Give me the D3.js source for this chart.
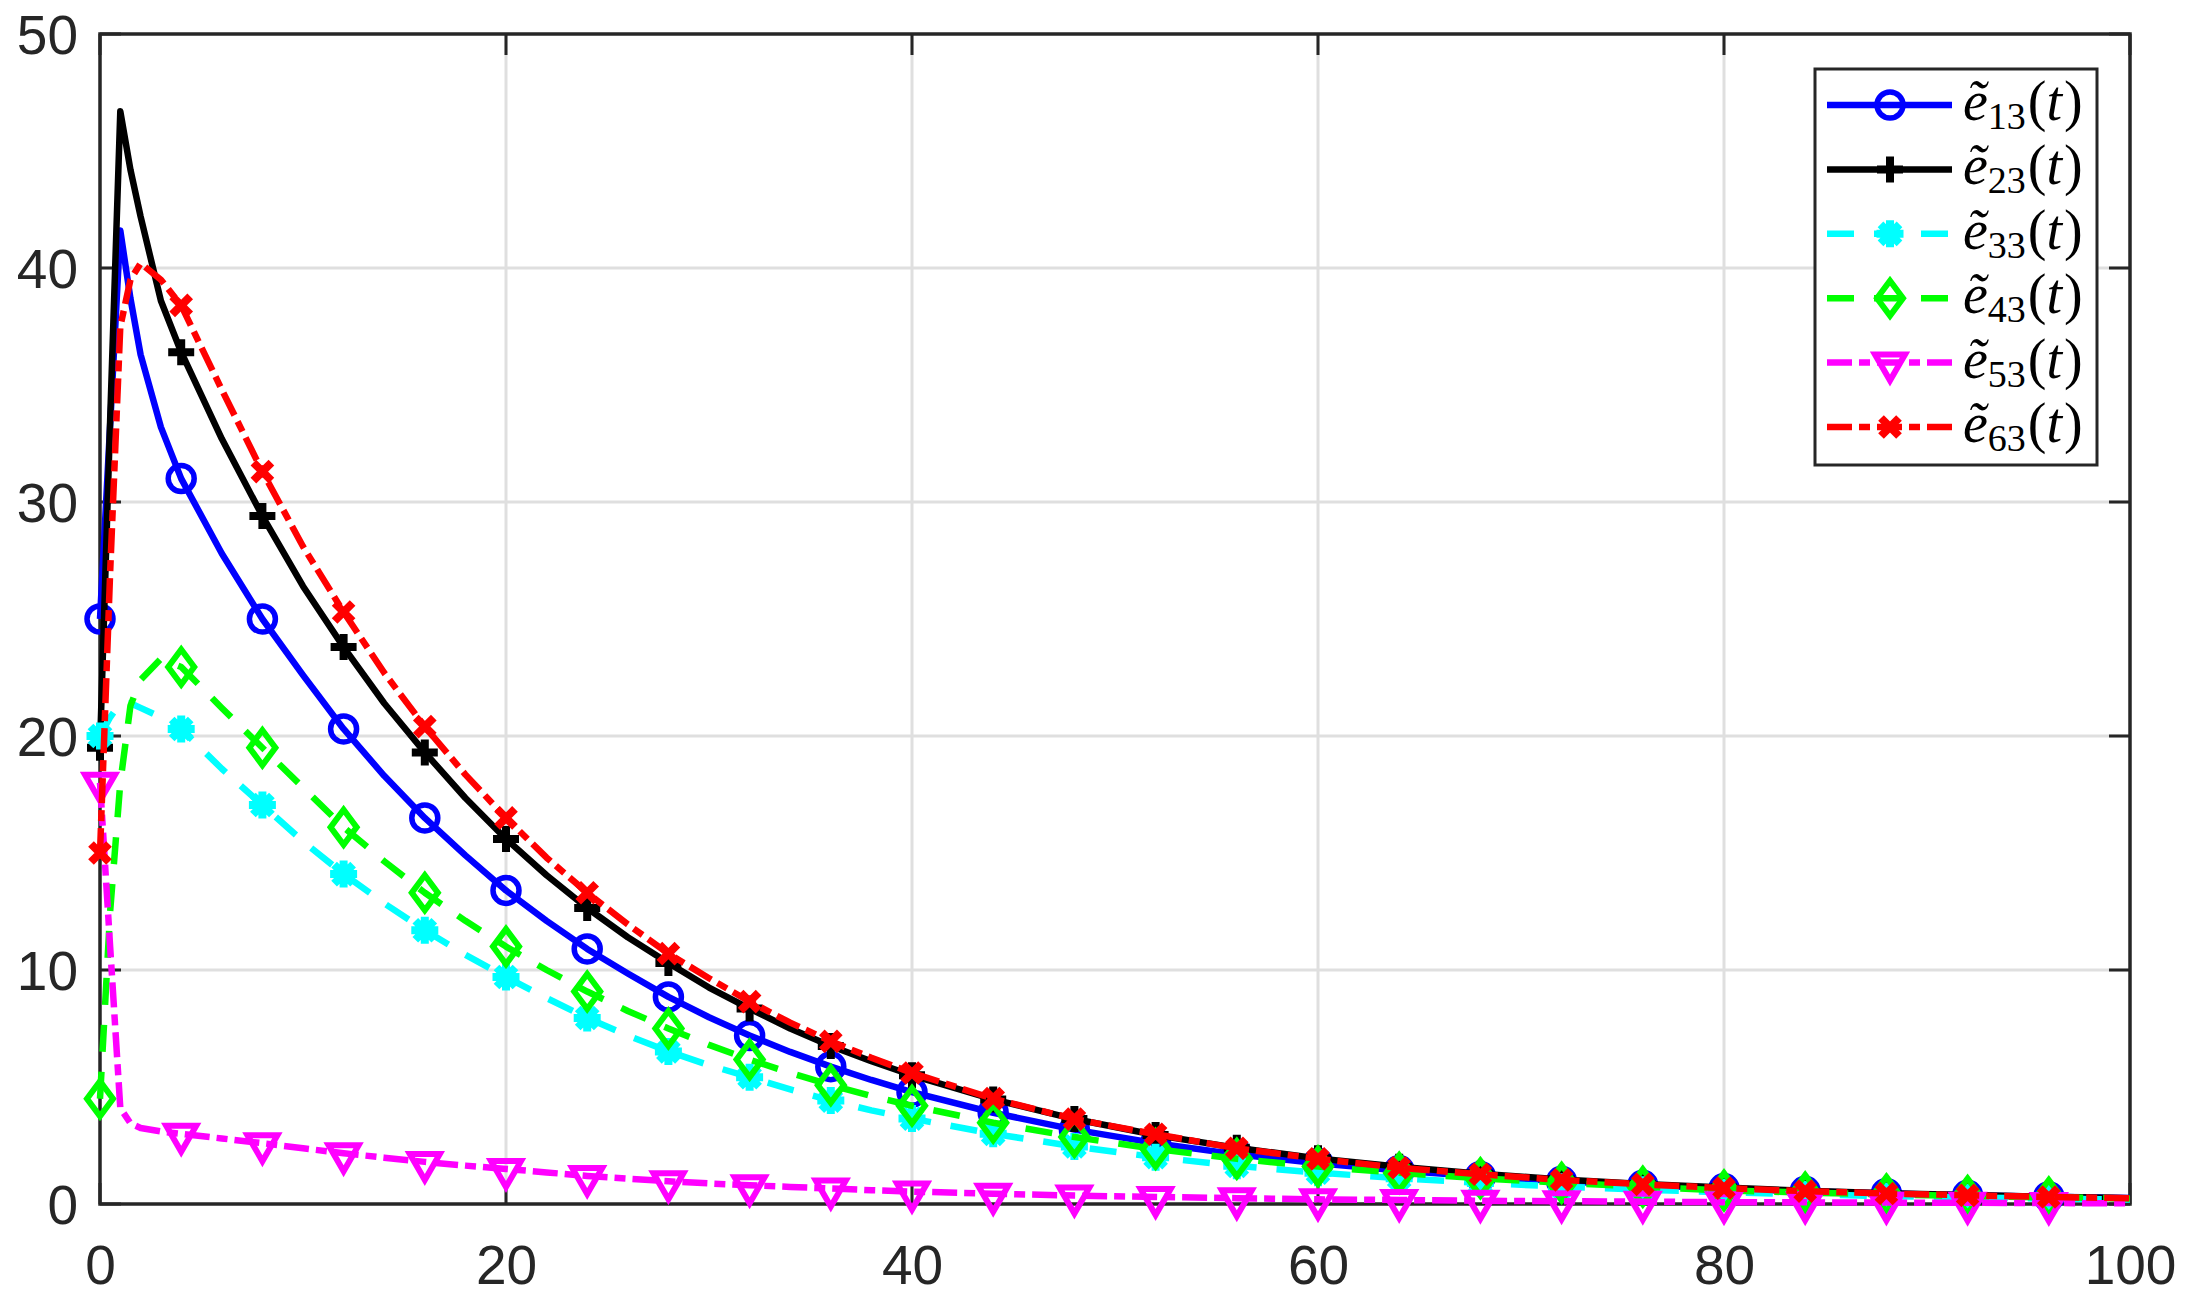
<!DOCTYPE html>
<html>
<head>
<meta charset="utf-8">
<script src="https://cdn.jsdelivr.net/npm/d3@7"></script>
<style>
  html, body { margin: 0; padding: 0; background: #ffffff; }
  svg { display: block; }
</style>
</head>
<body>
<svg id="chart" width="2186" height="1299"></svg>
<script>
// ---------------- data ----------------
const times = [0, 0.5, 1, 1.5, 2, 3, 4, 6, 8, 10, 12, 14, 16, 18, 20, 22, 24, 26, 28, 30, 32, 34, 36, 38, 40,
  44, 48, 52, 56, 60, 64, 68, 72, 76, 80, 84, 88, 92, 96, 100];

const e13 = [25.0, 33.3, 41.6, 38.7, 36.3, 33.2, 31.0, 27.8, 25.0, 22.6, 20.3, 18.3, 16.5, 14.9, 13.4, 12.1, 10.9, 9.85, 8.85, 7.98, 7.2, 6.5, 5.87, 5.3, 4.78,
  3.9, 3.18, 2.6, 2.12, 1.74, 1.43, 1.18, 0.97, 0.8, 0.66, 0.54, 0.45, 0.37, 0.31, 0.26];
const e23 = [19.5, 33.5, 46.7, 44.2, 42.2, 38.6, 36.4, 32.7, 29.4, 26.4, 23.8, 21.4, 19.3, 17.35, 15.6, 14.05, 12.65, 11.4, 10.3, 9.25, 8.35, 7.5, 6.75, 6.1, 5.5,
  4.47, 3.63, 2.95, 2.4, 1.95, 1.59, 1.29, 1.05, 0.86, 0.7, 0.57, 0.46, 0.38, 0.31, 0.25];
const e33 = [20.0, 20.8, 21.4, 21.4, 21.2, 20.8, 20.3, 18.6, 17.05, 15.5, 14.1, 12.85, 11.7, 10.65, 9.7, 8.8, 7.95, 7.2, 6.52, 5.93, 5.42, 4.9, 4.42, 4.0, 3.65,
  3.0, 2.46, 2.0, 1.63, 1.34, 1.1, 0.9, 0.74, 0.61, 0.5, 0.41, 0.34, 0.28, 0.23, 0.19];
const e43 = [4.5, 12.5, 18.0, 21.3, 22.4, 23.3, 22.95, 21.2, 19.5, 17.8, 16.1, 14.65, 13.3, 12.1, 11.0, 10.0, 9.08, 8.25, 7.5, 6.8, 6.17, 5.6, 5.08, 4.62, 4.2,
  3.47, 2.86, 2.35, 1.93, 1.6, 1.33, 1.1, 0.91, 0.74, 0.58, 0.49, 0.41, 0.34, 0.28, 0.24];
const e53 = [18.0, 11.0, 4.1, 3.45, 3.25, 3.1, 3.0, 2.8, 2.6, 2.38, 2.17, 1.98, 1.8, 1.64, 1.5, 1.35, 1.2, 1.08, 0.97, 0.88, 0.8, 0.73, 0.66, 0.59, 0.53,
  0.44, 0.36, 0.3, 0.25, 0.2, 0.17, 0.14, 0.12, 0.1, 0.08, 0.07, 0.06, 0.05, 0.04, 0.03];
const e63 = [15.0, 27.0, 37.5, 39.5, 40.2, 39.5, 38.4, 34.8, 31.3, 28.1, 25.3, 22.7, 20.4, 18.35, 16.5, 14.8, 13.3, 11.95, 10.7, 9.65, 8.65, 7.75, 6.95, 6.25, 5.6,
  4.5, 3.63, 2.98, 2.38, 1.93, 1.55, 1.27, 1.03, 0.84, 0.68, 0.55, 0.45, 0.37, 0.3, 0.25];

const markerTimes = [0, 4, 8, 12, 16, 20, 24, 28, 32, 36, 40, 44, 48, 52, 56, 60, 64, 68, 72, 76, 80, 84, 88, 92, 96];

const xTicks = [0, 20, 40, 60, 80, 100];
const yTicks = [0, 10, 20, 30, 40, 50];

const seriesNames = ["13", "23", "33", "43", "53", "63"];
const seriesValues = [e13, e23, e33, e43, e53, e63];
const seriesColors = ["#0000ff", "#000000", "#00ffff", "#00ff00", "#ff00ff", "#ff0000"];
const seriesDash = [null, null, "27,20", "27,20", "25,7,11,7", "25,7,11,7"];
const seriesMarker = ["circle", "plus", "star", "diamond", "triangleDown", "cross"];

// ---------------- layout ----------------
const svg = d3.select("#chart");
const L = 100, R = 2130, T = 34, B = 1204;
const x = d3.scaleLinear().domain([0, 100]).range([L, R]);
const y = d3.scaleLinear().domain([0, 50]).range([B, T]);
const axisColor = "#262626";
const gridColor = "#dfdfdf";
const tickFont = "'Liberation Sans', Arial, Helvetica, sans-serif";
const LW = 6.5;

// grid
const grid = svg.append("g");
grid.selectAll("line.gx").data(xTicks.slice(1, -1)).enter().append("line")
  .attr("x1", d => x(d)).attr("x2", d => x(d)).attr("y1", T).attr("y2", B)
  .attr("stroke", gridColor).attr("stroke-width", 3);
grid.selectAll("line.gy").data(yTicks.slice(1, -1)).enter().append("line")
  .attr("x1", L).attr("x2", R).attr("y1", d => y(d)).attr("y2", d => y(d))
  .attr("stroke", gridColor).attr("stroke-width", 3);

// axes (bottom / left with labels, top / right mirrored ticks)
const tickLen = 21;
const xAxis = d3.axisBottom(x).tickValues(xTicks).tickSize(0).tickPadding(0).tickFormat(d3.format("d"));
const gx = svg.append("g").attr("transform", `translate(0,${B})`).call(xAxis);
gx.select(".domain").remove();
gx.selectAll("text").attr("font-family", tickFont).attr("font-size", 55).attr("fill", axisColor)
  .attr("dy", null).attr("y", 80);
const yAxis = d3.axisLeft(y).tickValues(yTicks).tickSize(0).tickPadding(0).tickFormat(d3.format("d"));
const gy = svg.append("g").attr("transform", `translate(${L},0)`).call(yAxis);
gy.select(".domain").remove();
gy.selectAll("text").attr("font-family", tickFont).attr("font-size", 55).attr("fill", axisColor)
  .attr("x", -22).attr("dy", "0.36em");

const ticks = svg.append("g").attr("stroke", axisColor).attr("stroke-width", 3);
xTicks.forEach(t => {
  ticks.append("line").attr("x1", x(t)).attr("x2", x(t)).attr("y1", B).attr("y2", B - tickLen);
  ticks.append("line").attr("x1", x(t)).attr("x2", x(t)).attr("y1", T).attr("y2", T + tickLen);
});
yTicks.forEach(v => {
  ticks.append("line").attr("x1", L).attr("x2", L + tickLen).attr("y1", y(v)).attr("y2", y(v));
  ticks.append("line").attr("x1", R).attr("x2", R - tickLen).attr("y1", y(v)).attr("y2", y(v));
});
svg.append("rect").attr("x", L).attr("y", T).attr("width", R - L).attr("height", B - T)
  .attr("fill", "none").attr("stroke", axisColor).attr("stroke-width", 3.5);

// ---------------- markers ----------------
function drawMarker(g, type, color) {
  if (type === "circle") {
    g.append("circle").attr("r", 13).attr("fill", "none").attr("stroke", color).attr("stroke-width", 5.5);
  } else if (type === "plus") {
    g.append("path").attr("d", "M-13,0H13M0,-13V13").attr("stroke", color).attr("stroke-width", 8).attr("fill", "none");
  } else if (type === "star") {
    g.append("path").attr("d", "M-13.5,0H13.5M0,-13.5V13.5M-9.5,-9.5L9.5,9.5M-9.5,9.5L9.5,-9.5")
      .attr("stroke", color).attr("stroke-width", 8).attr("fill", "none");
  } else if (type === "diamond") {
    g.append("path").attr("d", "M0,-17.5L13,0L0,17.5L-13,0Z").attr("stroke", color).attr("stroke-width", 6)
      .attr("fill", "none").attr("stroke-linejoin", "miter");
  } else if (type === "triangleDown") {
    g.append("path").attr("d", "M-15,-8L15,-8L0,18Z").attr("stroke", color).attr("stroke-width", 6)
      .attr("fill", "none").attr("stroke-linejoin", "miter");
  } else if (type === "cross") {
    g.append("path").attr("d", "M-9,-9L9,9M-9,9L9,-9").attr("stroke", color).attr("stroke-width", 8).attr("fill", "none");
  }
}

// ---------------- series ----------------
const line = d3.line().x(d => x(d.t)).y(d => y(d.v)).curve(d3.curveLinear);
seriesValues.forEach((vals, i) => {
  const pts = times.map((t, k) => ({ t: t, v: vals[k] }));
  const g = svg.append("g");
  const p = g.append("path").datum(pts).attr("d", line)
    .attr("fill", "none").attr("stroke", seriesColors[i]).attr("stroke-width", LW)
    .attr("stroke-linejoin", "round");
  if (seriesDash[i]) p.attr("stroke-dasharray", seriesDash[i]);
  pts.filter(d => markerTimes.includes(d.t)).forEach(d => {
    const mg = g.append("g").attr("transform", `translate(${x(d.t)},${y(d.v)})`);
    drawMarker(mg, seriesMarker[i], seriesColors[i]);
  });
});

// ---------------- legend ----------------
const lg = svg.append("g");
const lgX = 1815, lgY = 69, lgW = 282, lgH = 396;
lg.append("rect").attr("x", lgX).attr("y", lgY).attr("width", lgW).attr("height", lgH)
  .attr("fill", "#ffffff").attr("stroke", axisColor).attr("stroke-width", 3);
const rowY0 = 105, rowStep = 64.4;
const lx1 = 1827, lx2 = 1952, lmx = 1890, tx = 1963;
const serif = "'Liberation Serif', 'Times New Roman', 'DejaVu Serif', serif";
seriesNames.forEach((name, i) => {
  const ry = rowY0 + i * rowStep;
  const l = lg.append("line").attr("x1", lx1).attr("x2", lx2).attr("y1", ry).attr("y2", ry)
    .attr("stroke", seriesColors[i]).attr("stroke-width", LW);
  if (seriesDash[i]) l.attr("stroke-dasharray", seriesDash[i]);
  const mg = lg.append("g").attr("transform", `translate(${lmx},${ry})`);
  drawMarker(mg, seriesMarker[i], seriesColors[i]);
  const txt = lg.append("text").attr("x", tx).attr("y", ry + 15)
    .attr("font-family", serif).attr("font-size", 56).attr("fill", "#000000");
  txt.append("tspan").attr("font-style", "italic").text("\u1EBD");
  txt.append("tspan").attr("font-size", 38).attr("dy", 9).text(name);
  txt.append("tspan").attr("dy", -9).attr("dx", 2).text("(");
  txt.append("tspan").attr("font-style", "italic").text("t");
  txt.append("tspan").attr("dx", 2).text(")");
});
</script>
</body>
</html>
